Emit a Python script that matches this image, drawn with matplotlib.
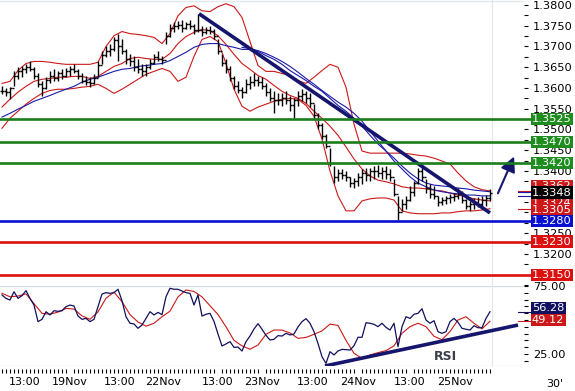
import numpy as np
import matplotlib
matplotlib.use('Agg')
import matplotlib.pyplot as plt
from matplotlib import transforms
from matplotlib.ticker import FixedLocator, MultipleLocator

# EUR/USD 30' chart, bars read one per hour from the picture
bar_high = [1.3604, 1.3599, 1.3602, 1.3640, 1.3650, 1.3654, 1.3659, 1.3664, 1.3650, 1.3635,
            1.3616, 1.3626, 1.3640, 1.3645, 1.3640, 1.3645, 1.3647, 1.3652, 1.3659, 1.3645,
            1.3635, 1.3628, 1.3626, 1.3633, 1.3664, 1.3688, 1.3702, 1.3707, 1.3724, 1.3729,
            1.3717, 1.3695, 1.3683, 1.3676, 1.3669, 1.3657, 1.3659, 1.3669, 1.3683, 1.3688,
            1.3676, 1.3736, 1.3755, 1.3760, 1.3762, 1.3765, 1.3760, 1.3765, 1.3755, 1.3779,
            1.3750, 1.3748, 1.3750, 1.3741, 1.3717, 1.3683, 1.3669, 1.3652, 1.3628, 1.3616,
            1.3602, 1.3621, 1.3628, 1.3635, 1.3628, 1.3626, 1.3611, 1.3599, 1.3592, 1.3587,
            1.3587, 1.3592, 1.3580, 1.3575, 1.3592, 1.3597, 1.3592, 1.3587, 1.3561, 1.3539,
            1.3515, 1.3489, 1.3455, 1.3412, 1.3405, 1.3405, 1.3400, 1.3386, 1.3383, 1.3395,
            1.3405, 1.3407, 1.3407, 1.3412, 1.3414, 1.3410, 1.3412, 1.3405, 1.3381, 1.3340,
            1.3333, 1.3340, 1.3364, 1.3376, 1.3407, 1.3412, 1.3381, 1.3369, 1.3364, 1.3340,
            1.3338, 1.3340, 1.3345, 1.3347, 1.3359, 1.3352, 1.3333, 1.3328, 1.3335, 1.3338,
            1.3340, 1.3342, 1.3357]
bar_low = [1.3585, 1.3580, 1.3573, 1.3604, 1.3621, 1.3626, 1.3635, 1.3640, 1.3621, 1.3602,
           1.3580, 1.3597, 1.3611, 1.3616, 1.3616, 1.3621, 1.3626, 1.3630, 1.3635, 1.3621,
           1.3611, 1.3606, 1.3602, 1.3609, 1.3626, 1.3659, 1.3674, 1.3678, 1.3688, 1.3664,
           1.3683, 1.3659, 1.3652, 1.3640, 1.3635, 1.3628, 1.3630, 1.3645, 1.3659, 1.3664,
           1.3659, 1.3707, 1.3724, 1.3736, 1.3741, 1.3736, 1.3741, 1.3743, 1.3731, 1.3736,
           1.3726, 1.3729, 1.3731, 1.3717, 1.3683, 1.3652, 1.3635, 1.3616, 1.3597, 1.3587,
           1.3575, 1.3587, 1.3597, 1.3604, 1.3604, 1.3597, 1.3580, 1.3568, 1.3539, 1.3558,
           1.3556, 1.3561, 1.3544, 1.3527, 1.3556, 1.3568, 1.3563, 1.3554, 1.3525, 1.3501,
           1.3477, 1.3455, 1.3412, 1.3371, 1.3376, 1.3381, 1.3376, 1.3362, 1.3359, 1.3364,
           1.3369, 1.3376, 1.3376, 1.3381, 1.3386, 1.3381, 1.3381, 1.3376, 1.3340, 1.3282,
           1.3304, 1.3309, 1.3328, 1.3340, 1.3369, 1.3376, 1.3347, 1.3335, 1.3333, 1.3316,
           1.3318, 1.3321, 1.3323, 1.3328, 1.3333, 1.3323, 1.3309, 1.3304, 1.3309, 1.3314,
           1.3309, 1.3316, 1.3328]
bar_close = [1.3592, 1.3590, 1.3600, 1.3630, 1.3640, 1.3645, 1.3650, 1.3645, 1.3628, 1.3610,
             1.3600, 1.3620, 1.3630, 1.3625, 1.3635, 1.3630, 1.3640, 1.3645, 1.3640, 1.3630,
             1.3618, 1.3615, 1.3612, 1.3625, 1.3655, 1.3680, 1.3690, 1.3695, 1.3715, 1.3700,
             1.3690, 1.3670, 1.3665, 1.3650, 1.3645, 1.3640, 1.3650, 1.3660, 1.3675, 1.3670,
             1.3668, 1.3725, 1.3745, 1.3750, 1.3752, 1.3745, 1.3755, 1.3750, 1.3740, 1.3740,
             1.3735, 1.3740, 1.3738, 1.3725, 1.3690, 1.3660, 1.3645, 1.3625, 1.3605, 1.3595,
             1.3590, 1.3610, 1.3615, 1.3620, 1.3615, 1.3605, 1.3590, 1.3575, 1.3570, 1.3570,
             1.3575, 1.3570, 1.3560, 1.3570, 1.3580, 1.3585, 1.3575, 1.3565, 1.3535, 1.3510,
             1.3485, 1.3460, 1.3420, 1.3385, 1.3395, 1.3390, 1.3385, 1.3370, 1.3375, 1.3385,
             1.3395, 1.3390, 1.3400, 1.3400, 1.3395, 1.3400, 1.3392, 1.3385, 1.3345, 1.3300,
             1.3320, 1.3330, 1.3350, 1.3370, 1.3400, 1.3385, 1.3360, 1.3345, 1.3340, 1.3325,
             1.3330, 1.3335, 1.3338, 1.3340, 1.3345, 1.3330, 1.3315, 1.3320, 1.3325, 1.3320,
             1.3330, 1.3335, 1.3348]

# bollinger bands and moving averages, read every second bar
band_upper = [1.3611, 1.3616, 1.3642, 1.3659, 1.3664, 1.3664, 1.3662, 1.3659, 1.3657, 1.3657,
              1.3657, 1.3657, 1.3662, 1.3700, 1.3726, 1.3736, 1.3731, 1.3729, 1.3726, 1.3722,
              1.3707, 1.3731, 1.3774, 1.3794, 1.3798, 1.3786, 1.3784, 1.3796, 1.3803, 1.3796,
              1.3770, 1.3712, 1.3654, 1.3640, 1.3640, 1.3635, 1.3630, 1.3618, 1.3611, 1.3626,
              1.3642, 1.3657, 1.3650, 1.3602, 1.3513, 1.3448, 1.3443, 1.3443, 1.3443, 1.3443,
              1.3443, 1.3441, 1.3438, 1.3436, 1.3431, 1.3424, 1.3417, 1.3395, 1.3376, 1.3362,
              1.3355, 1.3352]
band_mid = [1.3554, 1.3573, 1.3590, 1.3604, 1.3616, 1.3621, 1.3623, 1.3626, 1.3626, 1.3628,
            1.3628, 1.3623, 1.3628, 1.3640, 1.3652, 1.3659, 1.3671, 1.3674, 1.3671, 1.3669,
            1.3669, 1.3683, 1.3707, 1.3724, 1.3734, 1.3741, 1.3738, 1.3726, 1.3705, 1.3681,
            1.3659, 1.3645, 1.3630, 1.3621, 1.3606, 1.3592, 1.3582, 1.3575, 1.3563, 1.3544,
            1.3527, 1.3508, 1.3486, 1.3458, 1.3429, 1.3405, 1.3388, 1.3378, 1.3374, 1.3369,
            1.3362, 1.3359, 1.3359, 1.3357, 1.3354, 1.3352, 1.3347, 1.3342, 1.3338, 1.3333,
            1.3330, 1.3328]
band_lower = [1.3503, 1.3527, 1.3544, 1.3561, 1.3575, 1.3587, 1.3594, 1.3597, 1.3597, 1.3599,
              1.3602, 1.3604, 1.3609, 1.3599, 1.3587, 1.3597, 1.3609, 1.3621, 1.3633, 1.3640,
              1.3647, 1.3640, 1.3616, 1.3626, 1.3676, 1.3717, 1.3724, 1.3712, 1.3659, 1.3597,
              1.3556, 1.3544, 1.3554, 1.3561, 1.3568, 1.3573, 1.3575, 1.3573, 1.3558, 1.3532,
              1.3477, 1.3400, 1.3340, 1.3304, 1.3304, 1.3328, 1.3333, 1.3335, 1.3335, 1.3330,
              1.3304, 1.3299, 1.3297, 1.3297, 1.3297, 1.3299, 1.3299, 1.3302, 1.3304, 1.3304,
              1.3306, 1.3309]
ma_slow = [1.3530, 1.3539, 1.3549, 1.3558, 1.3568, 1.3575, 1.3582, 1.3590, 1.3597, 1.3604,
           1.3614, 1.3621, 1.3626, 1.3633, 1.3640, 1.3645, 1.3647, 1.3652, 1.3654, 1.3657,
           1.3659, 1.3666, 1.3676, 1.3686, 1.3698, 1.3705, 1.3707, 1.3707, 1.3702, 1.3698,
           1.3693, 1.3693, 1.3688, 1.3678, 1.3669, 1.3657, 1.3642, 1.3630, 1.3618, 1.3604,
           1.3592, 1.3575, 1.3558, 1.3544, 1.3527, 1.3508, 1.3486, 1.3465, 1.3448, 1.3431,
           1.3412, 1.3395, 1.3381, 1.3371, 1.3366, 1.3364, 1.3362, 1.3359, 1.3357, 1.3354,
           1.3352, 1.3350]
# second average only shows from 22Nov afternoon on
ma_fast = [1.3698, 1.3695, 1.3690, 1.3683, 1.3674, 1.3664, 1.3652, 1.3638, 1.3623, 1.3609,
           1.3594, 1.3580, 1.3566, 1.3554, 1.3539, 1.3520, 1.3496, 1.3472, 1.3448, 1.3424,
           1.3405, 1.3386, 1.3371, 1.3362, 1.3354, 1.3350, 1.3347, 1.3345, 1.3342, 1.3342,
           1.3340, 1.3340]

# RSI (blue) every bar, signal (red) every second bar
rsi = [68.4, 65.9, 64.7, 70.8, 65.9, 67.9, 71.6, 65.9, 61.0, 48.8,
       50.5, 56.1, 53.7, 56.8, 56.4, 56.8, 59.8, 61.0, 60.3, 52.9,
       50.5, 51.2, 48.8, 50.5, 59.8, 69.1, 70.1, 69.6, 70.1, 72.6,
       64.2, 52.4, 47.6, 47.1, 43.9, 46.3, 51.2, 56.1, 53.7, 55.6,
       53.9, 67.1, 73.3, 72.6, 72.6, 71.3, 70.1, 69.6, 61.0, 68.4,
       52.9, 54.2, 54.9, 49.0, 39.7, 30.9, 32.4, 34.1, 29.9, 30.1,
       27.2, 34.1, 38.2, 43.4, 47.3, 43.2, 38.7, 35.3, 35.8, 38.5,
       38.2, 40.2, 39.0, 39.7, 44.9, 48.8, 51.0, 47.6, 41.4, 32.8,
       23.0, 18.1, 26.7, 24.3, 27.2, 28.4, 28.2, 27.9, 31.1, 37.3,
       37.3, 48.0, 47.6, 46.8, 45.1, 47.6, 44.6, 42.6, 47.6, 30.4,
       45.1, 52.4, 51.2, 54.2, 54.9, 58.3, 50.0, 47.6, 49.5, 41.4,
       40.2, 41.4, 48.8, 51.2, 48.3, 43.9, 43.2, 42.6, 45.8, 44.3,
       44.3, 51.2, 56.1]
rsi_signal = [69.6, 67.1, 67.6, 69.2, 62.0, 54.9, 54.3, 55.8, 58.5, 58.0,
              53.0, 50.5, 56.0, 66.0, 70.5, 63.5, 54.0, 48.5, 45.5, 47.6,
              52.4, 56.5, 67.0, 72.1, 71.0, 67.0, 60.5, 54.0, 45.0, 35.0,
              31.0, 28.5, 31.6, 39.5, 42.6, 42.6, 40.5, 36.5, 37.2, 39.5,
              42.0, 47.0, 46.0, 35.0, 25.5, 21.8, 24.3, 26.0, 27.5, 31.0,
              40.2, 45.1, 47.6, 45.1, 38.0, 35.5, 41.5, 50.0, 52.4, 47.6,
              43.5, 49.12]
rsi_last = 56.28

# support / resistance levels
level_price = [1.3525, 1.3470, 1.3420, 1.3280, 1.3230, 1.3150]
level_color = ['#1b7d1b', '#1b7d1b', '#1b7d1b', '#0a10d0', '#dd1010', '#dd1010']

time_ticks = [5.75, 17, 29.5, 40.25, 54, 65, 77.75, 89, 102, 113.25]
time_labels = ['13:00', '19Nov', '13:00', '22Nov', '13:00', '23Nov', '13:00', '24Nov', '13:00', '25Nov']

W, H = 575, 391
NAVY = '#15156e'
RED = '#cc1818'
FS = 8.2

fig = plt.figure(figsize=(W / 100, H / 100), dpi=100)
ax = fig.add_axes([0, 1 - 286 / H, 524 / W, 286 / H])
ax_rsi = fig.add_axes([0, 1 - 366 / H, 524 / W, 80 / H])

n = len(bar_high)
k = np.arange(n)
kb = np.arange(0, n, 2)
kf = kb[-len(ma_fast):]
bar_open = [bar_close[0]] + bar_close[:-1]

for a in (ax, ax_rsi):
    a.set_xlim(-0.5, 130.5)
    for s in a.spines.values():
        s.set_visible(False)
    a.set_facecolor('none')

# ---- price panel
ax.set_ylim(1.31229, 1.38120)
ax.axhline(1.3810, color='#e2e8ee', lw=1)
ax.axvline(122.5, color='#dfe5eb', lw=0.8)

ax.plot(kb, band_upper, color=RED, lw=0.8)
ax.plot(kb, band_mid, color=RED, lw=0.8)
ax.plot(kb, band_lower, color=RED, lw=0.8)
ax.plot(kb, ma_slow, color='#1a1aa8', lw=0.8)
ax.plot(kf, ma_fast, color='#1a1aa8', lw=0.8)

ax.vlines(k, bar_low, bar_high, color='black', lw=1.0)
ax.hlines(bar_open, k - 0.5, k, color='black', lw=1.0)
ax.hlines(bar_close, k, k + 0.5, color='black', lw=1.0)

# trend line and arrow
ax.plot([49.25, 122], [1.3779, 1.3299], color=NAVY, lw=2.6, solid_capstyle='butt')
ax.annotate('', xy=(128.3, 1.3441), xytext=(123.7, 1.3340),
            arrowprops=dict(arrowstyle='-|>,head_length=0.9,head_width=0.45', color=NAVY, lw=1.5),
            annotation_clip=False)

for p, c in zip(level_price, level_color):
    ax.axhline(p, xmin=0, xmax=532 / 524, color=c, lw=1.9, clip_on=False, zorder=4)

ax.yaxis.tick_right()
ax.yaxis.set_major_locator(MultipleLocator(0.005))
ax.yaxis.set_minor_locator(MultipleLocator(0.0025))
ax.yaxis.set_major_formatter(lambda v, pos: f'{v:.4f}')
ax.tick_params(axis='y', which='both', length=3, width=0.8, pad=3.5, labelsize=FS, colors='black')
ax.tick_params(axis='x', which='both', bottom=False, labelbottom=False)

# leaders and value boxes on the right
ax.plot([129, 132.5], [band_upper[-1], band_upper[-1]], color=RED, lw=0.8, clip_on=False)
ax.plot([129, 132.5], [ma_slow[-1], ma_slow[-1]], color='#1a1aa8', lw=0.8, clip_on=False)
ax.plot([129, 132.5], [ma_fast[-1], ma_fast[-1]], color='#1a1aa8', lw=0.8, clip_on=False)
ax.plot([129, 132.5], [band_lower[-1], band_lower[-1]], color=RED, lw=0.8, clip_on=False)

trans = transforms.blended_transform_factory(fig.transFigure, ax.transData)
box_values = [band_upper[-1] + 0.0011, bar_close[-1], 1.3323, band_lower[-1] - 0.0004] + level_price[3:]
box_text = ['1.3362', f'{bar_close[-1]:.4f}', '1.3324', '1.3305', '1.3280', '1.3230', '1.3150']
box_color = [RED, 'black', RED, RED, level_color[3], level_color[4], level_color[5]]
for i, (v, t, c) in enumerate(zip(box_values, box_text, box_color)):
    z = 20 if c == 'black' else 6 + i
    ax.text(532 / W, v, t, transform=trans, ha='left', va='center', color='white',
            fontsize=FS, zorder=z, clip_on=False,
            bbox=dict(boxstyle='square,pad=0.1', fc=c, ec='none'))
for p, c in zip(level_price[:3], level_color[:3]):
    ax.text(532 / W, p, f'{p:.4f}', transform=trans, ha='left', va='center', color='white',
            fontsize=FS, zorder=6, clip_on=False,
            bbox=dict(boxstyle='square,pad=0.1', fc='#1e8c1e', ec='none'))

# ---- RSI panel
ax_rsi.set_ylim(16.18, 75)
ax_rsi.axhline(75, color='#d5dde5', lw=1)
ax_rsi.axhline(16.18, xmax=520 / 524, color='#d5dde5', lw=1)
ax_rsi.axvline(122.5, color='#dfe5eb', lw=0.8)
ax_rsi.plot(kb, rsi_signal, color=RED, lw=0.8)
ax_rsi.plot(k, rsi, color='#10105e', lw=0.9)
ax_rsi.plot([80.75, 129], [16.2, 46.3], color=NAVY, lw=2.6, solid_capstyle='butt')
ax_rsi.text(110.75, 22.8, 'RSI', fontsize=9, fontweight='bold', color='#3a3f4a',
            ha='center', va='center')

ax_rsi.yaxis.tick_right()
ax_rsi.yaxis.set_major_locator(FixedLocator([25, 50, 75]))
ax_rsi.yaxis.set_minor_locator(MultipleLocator(5))
ax_rsi.yaxis.set_major_formatter(lambda v, pos: f'{v:.2f}')
ax_rsi.tick_params(axis='y', which='both', length=3, width=0.8, pad=3.5, labelsize=FS)

ax_rsi.plot([129, 132.5], [rsi[-1], rsi[-1]], color='#10105e', lw=0.8, clip_on=False)
ax_rsi.plot([129, 132.5], [rsi_signal[-1], rsi_signal[-1]], color=RED, lw=0.8, clip_on=False)
trans_r = transforms.blended_transform_factory(fig.transFigure, ax_rsi.transData)
ax_rsi.text(532 / W, rsi_last + 2.3, f'{rsi_last:.2f}', transform=trans_r, ha='left', va='center',
            color='white', fontsize=FS, zorder=8, clip_on=False,
            bbox=dict(boxstyle='square,pad=0.1', fc='#10105e', ec='none'))
ax_rsi.text(532 / W, rsi_signal[-1] + 0.8, f'{rsi_signal[-1]:.2f}', transform=trans_r, ha='left',
            va='center', color='white', fontsize=FS, zorder=7, clip_on=False,
            bbox=dict(boxstyle='square,pad=0.1', fc=RED, ec='none'))

# time axis
ax_rsi.spines['bottom'].set_position(('outward', 2))
ax_rsi.xaxis.set_minor_locator(FixedLocator(k))
ax_rsi.xaxis.set_major_locator(FixedLocator(time_ticks))
ax_rsi.set_xticklabels(time_labels)
ax_rsi.tick_params(axis='x', which='minor', length=3.2, width=0.8, direction='out')
ax_rsi.tick_params(axis='x', which='major', length=0, pad=6, labelsize=8)
fig.text(555 / W, 1 - 384 / H, "30'", ha='center', va='center', fontsize=8)

fig.savefig('out.png', dpi=100, facecolor='white')
